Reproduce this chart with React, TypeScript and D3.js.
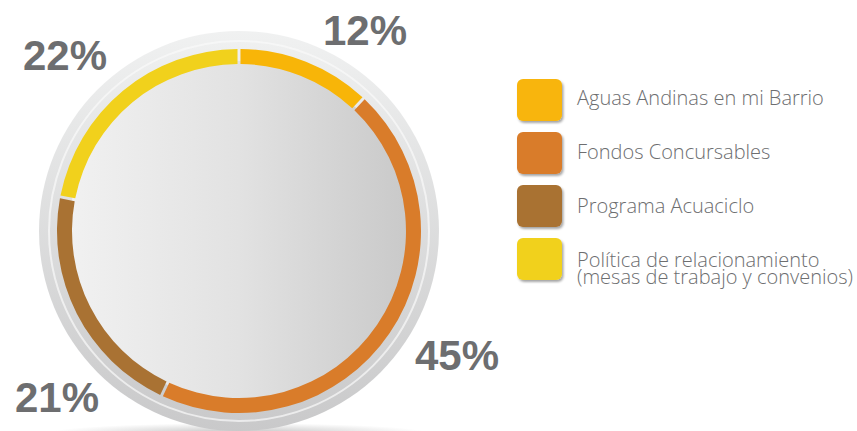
import * as d3 from 'd3'
import React from 'react'

const categories = ['Aguas Andinas en mi Barrio', 'Fondos Concursables', 'Programa Acuaciclo', 'Política de relacionamiento\n(mesas de trabajo y convenios)']
const shares = [12, 45, 21, 22]
const colors = ['#F8B508', '#D97C2A', '#A97233', '#F1D11C']
const labelPos = [[365, 45], [457, 370], [57, 412], [65, 70]]

const W = 857
const H = 431
const cx = 239
const cy = 231

const App = () => {
  const pie = d3.pie<number>().sort(null).value(d => d)
  const arcs = pie(shares)
  const ring = d3.arc<d3.PieArcDatum<number>>().innerRadius(167).outerRadius(182).padAngle(0.012)

  const legendY = d3.scaleBand().domain(categories).range([79, 280]).paddingInner(11 / 53)

  return (
    <svg width={W} height={H} style={{ position: 'absolute', left: 0, top: 0, background: '#fff' }}>
      <defs>
        <linearGradient id="outer" x1="0" y1="0" x2="0" y2="1">
          <stop offset="0" stopColor="#f0f1f1" />
          <stop offset="1" stopColor="#c9c9ca" />
        </linearGradient>
        <linearGradient id="inner" x1="0" y1="0" x2="1" y2="0">
          <stop offset="0" stopColor="#f1f1f1" />
          <stop offset="0.5" stopColor="#e2e2e2" />
          <stop offset="1" stopColor="#c9c9c9" />
        </linearGradient>
        <radialGradient id="shadow" cx="0.5" cy="0.5" r="0.5">
          <stop offset="0" stopColor="#9a9a9a" stopOpacity="0.6" />
          <stop offset="1" stopColor="#9a9a9a" stopOpacity="0" />
        </radialGradient>
        <filter id="sw" x="-20%" y="-20%" width="150%" height="150%">
          <feDropShadow dx="1.5" dy="2" stdDeviation="1.2" floodColor="#000" floodOpacity="0.35" />
        </filter>
      </defs>
      <ellipse cx={cx} cy={433} rx={190} ry={10} fill="url(#shadow)" />
      <circle cx={cx} cy={cy} r={200} fill="url(#outer)" />
      <circle cx={cx} cy={cy} r={190} fill="none" stroke="#fafafa" strokeOpacity={0.7} strokeWidth={2} />
      <circle cx={cx} cy={cy} r={170} fill="url(#inner)" />
      <g transform={`translate(${cx},${cy})`}>
        {arcs.map((a, i) => (
          <path key={i} d={ring(a) || ''} fill={colors[i]} />
        ))}
      </g>
      {shares.map((s, i) => (
        <text key={i} x={labelPos[i][0]} y={labelPos[i][1]} textAnchor="middle"
          fontFamily="Liberation Sans, Arial, sans-serif" fontWeight="bold" fontSize={42} fill="#6d6e70">
          {s}%
        </text>
      ))}
      {categories.map((c, i) => {
        const y = legendY(c) as number
        const h = legendY.bandwidth()
        const lines = c.split('\n')
        const base = y + h / 2 + (lines.length > 1 ? 8 : 5 + i)
        return (
          <g key={c}>
            <rect x={517} y={y} width={45} height={h} rx={6} fill={colors[i]} filter="url(#sw)" />
            <text x={577} y={base} fontFamily="Open Sans, sans-serif" fontWeight={300} fontSize={20} fill="#6d6e70">
              {lines.map((l, j) => (
                <tspan key={j} x={577} dy={j === 0 ? 0 : 17}>{l}</tspan>
              ))}
            </text>
          </g>
        )
      })}
    </svg>
  )
}

export default App
